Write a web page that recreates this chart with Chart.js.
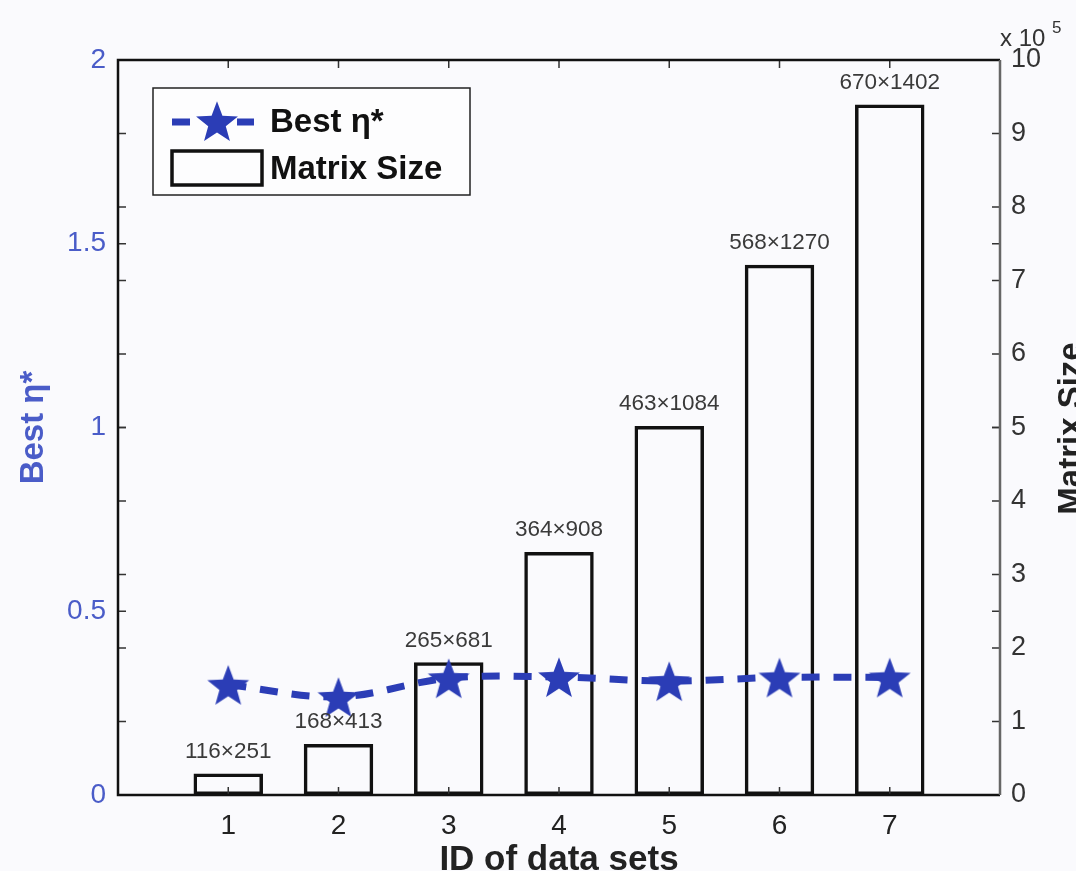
<!DOCTYPE html>
<html>
<head>
<meta charset="utf-8">
<script src="https://cdn.jsdelivr.net/npm/chart.js@4.4.1/dist/chart.umd.min.js"></script>
<style>
  html, body { margin: 0; padding: 0; background: #fafafd; }
  #wrap { width: 1076px; height: 871px; position: relative; }
</style>
</head>
<body>
<div id="wrap"><canvas id="chart"></canvas></div>
<script>
// ── data ──
const dataSetIds = [1, 2, 3, 4, 5, 6, 7];
const bestEta    = [0.30, 0.267, 0.318, 0.321, 0.31, 0.32, 0.32];
const matrixRows = [116, 168, 265, 364, 463, 568, 670];
const matrixCols = [251, 413, 681, 908, 1084, 1270, 1402];
const leftTicks  = [0, 0.5, 1, 1.5, 2];
const rightTicks = [0, 1, 2, 3, 4, 5, 6, 7, 8, 9, 10]; // x 10^5

const BLUE      = '#2b3db6';
const BLUE_TEXT = '#4a5cc8';
const FONT      = "'Liberation Sans', Arial, sans-serif";

const matrixSize = matrixRows.map((r, i) => r * matrixCols[i]);

// filled five-point star used as the point marker
function makeStar(size, color) {
  const c = document.createElement('canvas');
  c.width = size; c.height = size;
  const g = c.getContext('2d');
  const cx = size / 2, cy = size / 2 + size * 0.05, R = size / 2 - 1, r = R * 0.42;
  g.beginPath();
  for (let i = 0; i < 10; i++) {
    const rad = i % 2 === 0 ? R : r;
    const a = -Math.PI / 2 + i * Math.PI / 5;
    g.lineTo(cx + rad * Math.cos(a), cy + rad * Math.sin(a));
  }
  g.closePath();
  g.fillStyle = color;
  g.fill();
  return c;
}
const starImg = makeStar(46, BLUE);

// frame, inward ticks, bar labels, legend, titles
const decorPlugin = {
  id: 'decor',
  afterDatasetsDraw(chart) {
    const { ctx, chartArea: a, scales } = chart;
    const yl = scales.y, yr = scales.y1, x = scales.x;
    ctx.save();

    // bar labels
    const barMeta = chart.getDatasetMeta(1);
    ctx.font = '22.5px ' + FONT;
    ctx.fillStyle = '#3a3a3a';
    ctx.textAlign = 'center';
    ctx.textBaseline = 'middle';
    barMeta.data.forEach((bar, i) => {
      ctx.fillText(matrixRows[i] + '\u00d7' + matrixCols[i], bar.x, bar.y - 22);
    });

    // inward ticks
    ctx.lineWidth = 1.5;
    ctx.strokeStyle = '#333';
    const tl = 8;
    leftTicks.forEach(v => {
      const py = yl.getPixelForValue(v);
      ctx.beginPath();
      ctx.moveTo(a.left, py); ctx.lineTo(a.left + tl, py);
      ctx.moveTo(a.right, py); ctx.lineTo(a.right - tl, py);
      ctx.stroke();
    });
    rightTicks.forEach(v => {
      const py = yr.getPixelForValue(v * 1e5);
      ctx.beginPath();
      ctx.moveTo(a.left, py); ctx.lineTo(a.left + tl, py);
      ctx.moveTo(a.right, py); ctx.lineTo(a.right - tl, py);
      ctx.stroke();
    });
    dataSetIds.forEach(v => {
      const px = x.getPixelForValue(v);
      ctx.beginPath();
      ctx.moveTo(px, a.bottom); ctx.lineTo(px, a.bottom - tl);
      ctx.moveTo(px, a.top); ctx.lineTo(px, a.top + tl);
      ctx.stroke();
    });

    // frame
    ctx.lineWidth = 2.5;
    ctx.strokeStyle = '#111';
    ctx.beginPath();
    ctx.moveTo(a.right, a.top); ctx.lineTo(a.left, a.top);
    ctx.lineTo(a.left, a.bottom); ctx.lineTo(a.right, a.bottom);
    ctx.stroke();
    ctx.strokeStyle = '#666';
    ctx.beginPath();
    ctx.moveTo(a.right, a.top); ctx.lineTo(a.right, a.bottom);
    ctx.stroke();

    // legend
    const lx = a.left + 35, ly = a.top + 28, lw = 317, lh = 107;
    ctx.fillStyle = '#fdfdfe';
    ctx.fillRect(lx, ly, lw, lh);
    ctx.lineWidth = 1.5;
    ctx.strokeStyle = '#222';
    ctx.strokeRect(lx, ly, lw, lh);
    const r1 = ly + 34, r2 = ly + 80;
    ctx.strokeStyle = BLUE;
    ctx.lineWidth = 7;
    ctx.setLineDash([18, 14]);
    ctx.beginPath();
    ctx.moveTo(lx + 19, r1); ctx.lineTo(lx + 109, r1);
    ctx.stroke();
    ctx.setLineDash([]);
    ctx.fillStyle = '#fdfdfe';
    ctx.fillRect(lx + 44, r1 - 6, 40, 12);
    ctx.drawImage(starImg, lx + 41, r1 - 24);
    ctx.strokeStyle = '#111';
    ctx.lineWidth = 3.5;
    ctx.strokeRect(lx + 19, r2 - 17, 90, 34);
    ctx.fillStyle = '#111';
    ctx.font = 'bold 33px ' + FONT;
    ctx.textAlign = 'left';
    ctx.fillText('Best \u03b7*', lx + 117, r1 + 1);
    ctx.fillText('Matrix Size', lx + 117, r2 + 2);

    // axis titles
    ctx.textAlign = 'center';
    ctx.fillStyle = BLUE_TEXT;
    ctx.font = 'bold 33px ' + FONT;
    ctx.save();
    ctx.translate(34, (a.top + a.bottom) / 2);
    ctx.rotate(-Math.PI / 2);
    ctx.fillText('Best \u03b7*', 0, 0);
    ctx.restore();

    ctx.fillStyle = '#222';
    ctx.save();
    ctx.translate(a.right + 72, (a.top + a.bottom) / 2 + 1);
    ctx.rotate(-Math.PI / 2);
    ctx.fillText('Matrix Size', 0, 0);
    ctx.restore();

    ctx.font = 'bold 35px ' + FONT;
    ctx.fillText('ID of data sets', (a.left + a.right) / 2, a.bottom + 65);

    // exponent label
    ctx.font = '24px ' + FONT;
    ctx.textAlign = 'left';
    ctx.fillStyle = '#333';
    ctx.fillText('x 10', a.right, a.top - 21);
    ctx.font = '17px ' + FONT;
    ctx.fillText('5', a.right + 52, a.top - 32);

    ctx.restore();
  }
};

new Chart(document.getElementById('chart'), {
  data: {
    datasets: [
      {
        type: 'line',
        label: 'Best \u03b7*',
        data: dataSetIds.map((id, i) => ({ x: id, y: bestEta[i] })),
        yAxisID: 'y',
        borderColor: BLUE,
        borderWidth: 7,
        borderDash: [18, 14],
        tension: 0.35,
        pointStyle: starImg,
        pointRadius: 22,
        order: 0
      },
      {
        type: 'bar',
        label: 'Matrix Size',
        data: dataSetIds.map((id, i) => ({ x: id, y: matrixSize[i] })),
        yAxisID: 'y1',
        backgroundColor: 'rgba(255,255,255,0)',
        borderColor: '#111',
        borderWidth: 3.5,
        borderSkipped: false,
        categoryPercentage: 1,
        barPercentage: 0.63,
        order: 1
      }
    ]
  },
  options: {
    responsive: true,
    maintainAspectRatio: false,
    animation: false,
    layout: { padding: { top: 60, left: 0, right: 0, bottom: 0 } },
    plugins: { legend: { display: false }, tooltip: { enabled: false } },
    scales: {
      x: {
        type: 'linear',
        offset: false,
        min: 0, max: 8,
        grid: { display: false, offset: false },
        border: { display: false },
        ticks: {
          stepSize: 1,
          color: '#222',
          font: { family: FONT, size: 28 },
          padding: 6,
          callback: v => (v >= 1 && v <= 7) ? v : ''
        },
        afterFit: s => { s.height = 76; }
      },
      y: {
        position: 'left',
        min: 0, max: 2,
        grid: { display: false },
        border: { display: false },
        ticks: {
          stepSize: 0.5,
          color: BLUE_TEXT,
          font: { family: FONT, size: 28 },
          padding: 4,
          callback: v => String(v)
        },
        afterFit: s => { s.width = 118; }
      },
      y1: {
        position: 'right',
        min: 0, max: 1000000,
        grid: { display: false },
        border: { display: false },
        ticks: {
          stepSize: 100000,
          color: '#333',
          font: { family: FONT, size: 27 },
          padding: 3,
          callback: v => String(v / 100000)
        },
        afterFit: s => { s.width = 76; }
      }
    }
  },
  plugins: [decorPlugin]
});
</script>
</body>
</html>
